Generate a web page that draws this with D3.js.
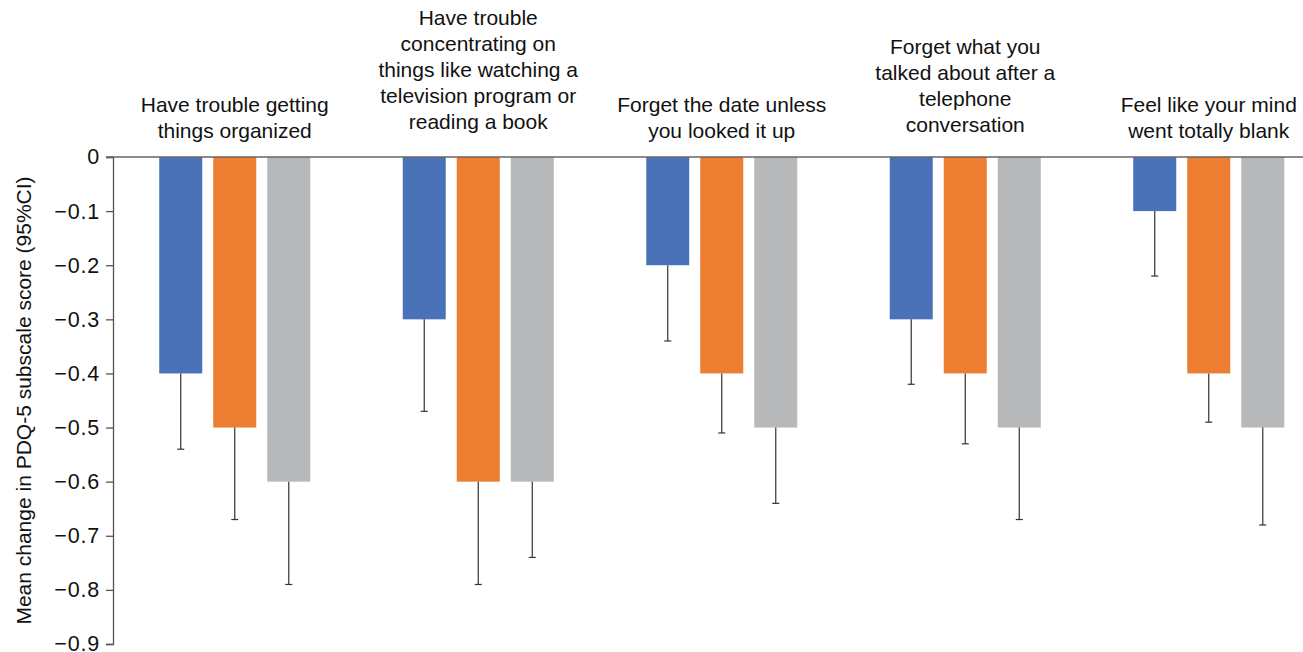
<!DOCTYPE html>
<html>
<head>
<meta charset="utf-8">
<script src="https://cdn.jsdelivr.net/npm/d3@7"></script>
<style>
  html, body { margin: 0; padding: 0; background: #fff; }
  svg { display: block; }
  text { font-family: "Liberation Sans", Arial, Helvetica, sans-serif; fill: #111; }
</style>
</head>
<body>
<svg id="chart" width="1303" height="652"></svg>
<script>
// PDQ-5 item groups (each label split into its printed lines)
const items = [
  ["Have trouble getting", "things organized"],
  ["Have trouble", "concentrating on", "things like watching a", "television program or", "reading a book"],
  ["Forget the date unless", "you looked it up"],
  ["Forget what you", "talked about after a", "telephone", "conversation"],
  ["Feel like your mind", "went totally blank"]
];
const series = ["s1", "s2", "s3"];
const seriesColors = ["#4A72B8", "#ED7D31", "#B7B8BA"];

// Mean change per item, one array per series
const meanS1 = [-0.4, -0.3, -0.2, -0.3, -0.1];
const meanS2 = [-0.5, -0.6, -0.4, -0.4, -0.4];
const meanS3 = [-0.6, -0.6, -0.5, -0.5, -0.5];

// Lower 95% CI bound per item
const lowS1 = [-0.54, -0.47, -0.34, -0.42, -0.22];
const lowS2 = [-0.67, -0.79, -0.51, -0.53, -0.49];
const lowS3 = [-0.79, -0.74, -0.64, -0.67, -0.68];

const yTicks = [0, -0.1, -0.2, -0.3, -0.4, -0.5, -0.6, -0.7, -0.8, -0.9];
const yTitle = "Mean change in PDQ-5 subscale score (95%CI)";

const means = [meanS1, meanS2, meanS3];
const lows = [lowS1, lowS2, lowS3];

const svg = d3.select("#chart");
const x0 = 113, yTop = 157, yBottom = 644, groupStep = 243.5;

const y = d3.scaleLinear().domain([0, -0.9]).range([yTop, yBottom]);
const xGroup = d3.scaleBand()
  .domain(d3.range(items.length))
  .range([x0, x0 + groupStep * items.length]);
const xInner = d3.scaleBand()
  .domain(series)
  .range([0, xGroup.bandwidth()])
  .paddingInner(11 / 54)
  .paddingOuter(0.856);

// Flattened rows for bars and error bars
const rows = [];
items.forEach((_, i) => series.forEach((s, k) => {
  rows.push({ i, s, k, mean: means[k][i], low: lows[k][i] });
}));

// Bars (hang down from zero)
svg.append("g").selectAll("rect")
  .data(rows).join("rect")
  .attr("x", d => xGroup(d.i) + xInner(d.s))
  .attr("y", y(0))
  .attr("width", xInner.bandwidth())
  .attr("height", d => y(d.mean) - y(0))
  .attr("fill", d => seriesColors[d.k]);

// Lower CI whiskers
const err = svg.append("g").attr("stroke", "#333").attr("stroke-width", 1.2);
const cx = d => xGroup(d.i) + xInner(d.s) + xInner.bandwidth() / 2;
err.selectAll("line.v").data(rows).join("line").attr("class", "v")
  .attr("x1", cx).attr("x2", cx)
  .attr("y1", d => y(d.mean)).attr("y2", d => y(d.low));
err.selectAll("line.c").data(rows).join("line").attr("class", "c")
  .attr("x1", d => cx(d) - 3.5).attr("x2", d => cx(d) + 3.5)
  .attr("y1", d => y(d.low)).attr("y2", d => y(d.low));

// Y axis
const yAxis = d3.axisLeft(y)
  .tickValues(yTicks)
  .tickSize(7)
  .tickPadding(6)
  .tickFormat(d => d === 0 ? "0" : d3.format(".1f")(d).replace("-", "\u2212"));
const ga = svg.append("g").attr("transform", `translate(${x0},0)`).call(yAxis);
ga.select(".domain").attr("stroke", "#555").attr("stroke-width", 1.3);
ga.selectAll(".tick line").attr("stroke", "#555").attr("stroke-width", 1.3);
ga.selectAll(".tick text").attr("font-size", 21.5).attr("fill", "#111")
  .attr("letter-spacing", "0.8px")
  .style("font-family", "'Liberation Sans', Arial, sans-serif");

// Zero baseline across the full width
svg.append("line")
  .attr("x1", x0 - 7).attr("x2", 1303)
  .attr("y1", y(0)).attr("y2", y(0))
  .attr("stroke", "#666").attr("stroke-width", 1.3);

// Y axis title
svg.append("text")
  .attr("transform", `translate(31,${(yTop + yBottom) / 2}) rotate(-90)`)
  .attr("text-anchor", "middle")
  .attr("font-size", 21)
  .text(yTitle);

// Item labels above each group
const lineH = 26;
const lab = svg.append("g").selectAll("text")
  .data(items).join("text")
  .attr("text-anchor", "middle")
  .attr("font-size", 21);
lab.each(function (lines, i) {
  const last = 138 - (lines.length - 2) * 3;
  const cxg = xGroup(i) + xInner("s2") + xInner.bandwidth() / 2;
  d3.select(this).selectAll("tspan")
    .data(lines).join("tspan")
    .attr("x", cxg)
    .attr("y", (_, j) => last - (lines.length - 1 - j) * lineH)
    .text(t => t);
});
</script>
</body>
</html>
